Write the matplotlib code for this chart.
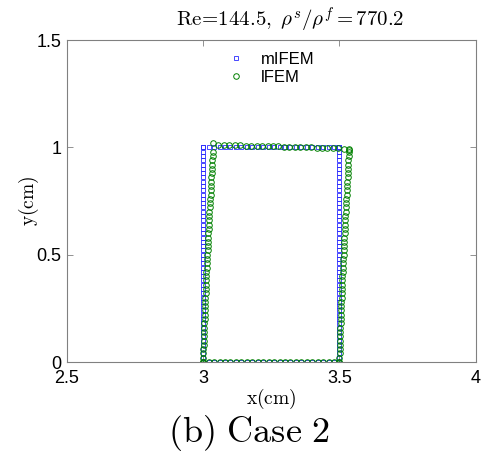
import matplotlib
matplotlib.use("Agg")
import matplotlib.pyplot as plt

plt.rcParams['mathtext.fontset'] = 'cm'
plt.rcParams['font.family'] = ['Liberation Sans', 'DejaVu Sans']

# node positions along the solid boundary (cm)
base_x = [3.00, 3.02, 3.04, 3.06, 3.08, 3.10, 3.12, 3.14, 3.16, 3.18, 3.20, 3.22, 3.24,
          3.26, 3.28, 3.30, 3.32, 3.34, 3.36, 3.38, 3.40, 3.42, 3.44, 3.46, 3.48, 3.50]
side_y = [0.00, 0.02, 0.04, 0.06, 0.08, 0.10, 0.12, 0.14, 0.16, 0.18, 0.20, 0.22, 0.24,
          0.26, 0.28, 0.30, 0.32, 0.34, 0.36, 0.38, 0.40, 0.42, 0.44, 0.46, 0.48, 0.50,
          0.52, 0.54, 0.56, 0.58, 0.60, 0.62, 0.64, 0.66, 0.68, 0.70, 0.72, 0.74, 0.76,
          0.78, 0.80, 0.82, 0.84, 0.86, 0.88, 0.90, 0.92, 0.94, 0.96, 0.98, 1.00]

# lFEM: horizontal displacement of the side nodes, and top edge heights
side_u = [0.000, 0.000, 0.001, 0.001, 0.001, 0.002, 0.002, 0.003, 0.003, 0.004, 0.004,
          0.005, 0.006, 0.006, 0.007, 0.008, 0.008, 0.009, 0.010, 0.010, 0.011, 0.012,
          0.012, 0.013, 0.014, 0.015, 0.015, 0.016, 0.017, 0.018, 0.019, 0.019, 0.020,
          0.021, 0.022, 0.023, 0.023, 0.024, 0.025, 0.026, 0.027, 0.028, 0.029, 0.030,
          0.030, 0.031, 0.032, 0.033, 0.034, 0.035, 0.036]
top_y = [1.020, 1.012, 1.011, 1.010, 1.010, 1.009, 1.008, 1.008, 1.007, 1.006, 1.006,
         1.005, 1.004, 1.003, 1.003, 1.002, 1.001, 1.000, 1.000, 0.999, 0.998, 0.997,
         0.996, 0.995, 0.994, 0.992]

xticks = [2.5, 3, 3.5, 4]
xticklabels = ['2.5', '3', '3.5', '4']
yticks = [0, 0.5, 1, 1.5]
yticklabels = ['0', '0.5', '1', '1.5']

# mIFEM: undeformed rectangle
m_x = base_x + [3.5] * len(side_y) + base_x[::-1] + [3.0] * len(side_y)
m_y = [0.0] * len(base_x) + side_y + [1.0] * len(base_x) + side_y[::-1]

# lFEM: deformed boundary
l_x = (base_x + [3.5 + u for u in side_u]
       + [x + side_u[-1] for x in base_x[::-1]]
       + [3.0 + u for u in side_u[::-1]])
l_y = [0.0] * len(base_x) + side_y[:-1] + [0.99] + top_y[::-1] + side_y[:-1][::-1] + [0.0]
l_y = l_y[:len(l_x)]

fig = plt.figure(figsize=(4.92, 4.58), dpi=100)
ax = fig.add_axes([0.136, 0.2096, 0.831, 0.703])

ax.plot(m_x, m_y, 's', color='#2a2aff', markerfacecolor='none',
        markersize=3.2, markeredgewidth=0.6, label='mIFEM')
ax.plot(l_x, l_y, 'o', color='#008000', markerfacecolor='none',
        markersize=4.0, markeredgewidth=0.7, label='lFEM')

ax.set_xlim(2.5, 4)
ax.set_ylim(0, 1.5)
ax.set_xticks(xticks)
ax.set_xticklabels(xticklabels)
ax.set_yticks(yticks)
ax.set_yticklabels(yticklabels)
ax.tick_params(direction='in', top=True, right=True, length=4, width=0.6,
               color='#808080', labelsize=13)
ax.tick_params(axis='x', pad=6)
ax.tick_params(axis='y', pad=4)
for s in ax.spines.values():
    s.set_color('#808080')
    s.set_linewidth(0.8)

ax.set_xlabel(r'$\mathrm{x(cm)}$', fontsize=14, labelpad=0)
ax.set_ylabel(r'$\mathrm{y(cm)}$', fontsize=14, labelpad=-3)

ax.legend(loc='upper center', frameon=False, fontsize=12, handletextpad=0.5,
          borderaxespad=0.3, labelspacing=0.2, markerscale=1.0,
          bbox_to_anchor=(0.49, 1.0))

fig.text(0.59, 0.955, r'$\mathrm{Re}\!=\!144.5,\ \rho^s/\rho^f = 770.2$',
         ha='center', va='center', fontsize=15)
fig.text(0.505, 0.055, r'$\mathrm{(b)\ Case\ 2}$', ha='center', va='center',
         fontsize=26)

fig.savefig('out.png', dpi=100)
